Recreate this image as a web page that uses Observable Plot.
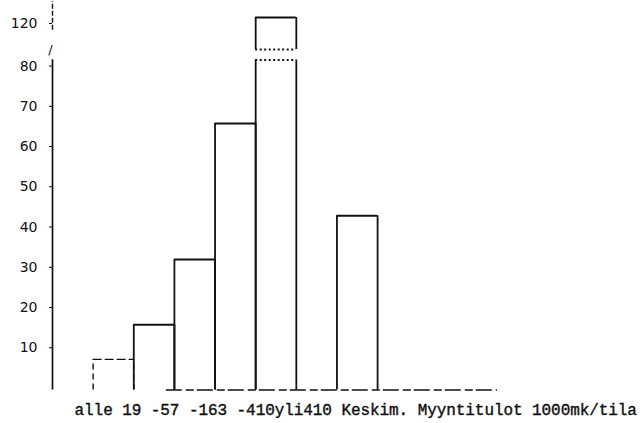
<!DOCTYPE html>
<html><head><meta charset="utf-8">
<script src="https://cdn.jsdelivr.net/npm/d3@7"></script>
<script src="https://cdn.jsdelivr.net/npm/@observablehq/plot@0.6"></script>
<style>body{margin:0;background:#fff} svg{display:block;background:#fff}</style>
</head><body><div id="chart"></div>
<script>
// ---- data ----
const categories = ["alle 19", "-57", "-163", "-410", "yli410", "Keskim."];
const values = [7.6, 16.2, 32.4, 66.2, 122, 43.3];
const yTicks = [10, 20, 30, 40, 50, 60, 70, 80, 120];
const xTitle = "Myyntitulot 1000mk/tila";

// ---- broken y axis: compress the 82..114 interval ----
const breakLow = 82, breakHigh = 114, yTop = 126;
const gapK = 0.0815, upperK = 0.994;
const T = v => v <= breakLow ? v
  : v <= breakHigh ? breakLow + (v - breakLow) * gapK
  : breakLow + (breakHigh - breakLow) * gapK + (v - breakHigh) * upperK;

const slot = i => i < 5 ? i : i + 1;            // gap before "Keskim."
const bars = categories.map((c, i) => ({c, v: values[i], x1: slot(i), x2: slot(i) + 1}));
const sides = bars.flatMap(b => b.v > breakHigh
  ? [{c: b.c, x: b.x1, y1: 0, y2: breakLow}, {c: b.c, x: b.x2, y1: 0, y2: breakLow},
     {c: b.c, x: b.x1, y1: breakHigh, y2: b.v}, {c: b.c, x: b.x2, y1: breakHigh, y2: b.v}]
  : [{c: b.c, x: b.x1, y1: 0, y2: b.v}, {c: b.c, x: b.x2, y1: 0, y2: b.v}]);
const waves = bars.filter(b => b.v > breakHigh).flatMap(b => [
  {x1: b.x1, x2: b.x2, y: breakLow}, {x1: b.x1, x2: b.x2, y: breakHigh}]);
const dashed = d => d.c === categories[0];
// the typewritten label line under the chart
const labelLine = categories.slice(0, 4).join(" ") + categories[4] + " " + categories[5] + " " + xTitle;

const ink = "#111";
const chart = Plot.plot({
  width: 643, height: 423,
  marginLeft: 52, marginRight: 144, marginTop: 1, marginBottom: 33.5,
  x: {domain: [-1, 10], axis: null},
  y: {transform: T, nice: false, axis: null},
  style: {fontFamily: "DejaVu Sans", background: "#fff"},
  marks: [
    // y axis (broken)
    Plot.ruleX([-1], {y1: 0, y2: breakLow + 0.6, stroke: ink, strokeWidth: 1.7}),
    Plot.ruleX([-1], {y1: 118.8, y2: yTop, stroke: ink, strokeWidth: 1.4, strokeDasharray: "5 2"}),
    Plot.text(["/"], {x: -1, y: breakHigh - 2, dx: -2, fontSize: 13, fill: ink}),
    Plot.axisY(yTicks, {anchor: "left", tickSize: 3, tickPadding: 12, label: null,
      fontSize: 14, fill: ink, stroke: ink, dy: -2}),
    // baseline
    Plot.ruleY([0], {x1: 1.8, x2: 9.95, stroke: ink, strokeWidth: 1.4, strokeDasharray: "16 4 8 3"}),
    // bars: sides and tops
    Plot.ruleX(sides.filter(d => !dashed(d)), {x: "x", y1: "y1", y2: "y2", stroke: ink, strokeWidth: 1.8}),
    Plot.ruleX(sides.filter(dashed), {x: "x", y1: "y1", y2: "y2", stroke: ink, strokeWidth: 1.4, strokeDasharray: "6 4"}),
    Plot.ruleY(bars.filter(d => !dashed(d)), {x1: "x1", x2: "x2", y: "v", stroke: ink, strokeWidth: 2}),
    Plot.ruleY(bars.filter(dashed), {x1: "x1", x2: "x2", y: "v", stroke: ink, strokeWidth: 1.4, strokeDasharray: "9 3"}),
    // break marks on the tall bar
    Plot.ruleY(waves, {x1: "x1", x2: "x2", y: "y", stroke: ink, strokeWidth: 2, strokeDasharray: "2 2.5"}),
    // x labels (one typewritten line)
    Plot.text([labelLine], {x: slot(0), y: 0, textAnchor: "start", dx: -18.6, dy: 19.5,
      fontFamily: "Liberation Mono", fontSize: 16, fill: ink, stroke: ink, strokeWidth: 0.4})
  ]
});
d3.select(chart).selectAll("text")
  .filter(function() { return this.textContent === labelLine; })
  .style("letter-spacing", "-0.07px");
document.getElementById("chart").append(chart);
</script>
</body></html>
